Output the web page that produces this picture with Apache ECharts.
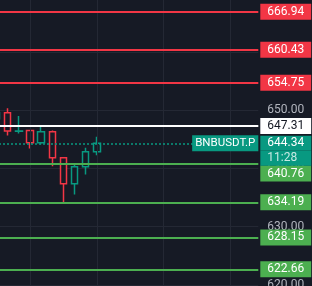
<!DOCTYPE html>
<html><head><meta charset="utf-8">
<script src="https://cdn.jsdelivr.net/npm/echarts@6/dist/echarts.min.js"></script>
<style>
html,body{margin:0;padding:0;background:#161a25;overflow:hidden;width:312px;height:286px}
#c{position:absolute;left:-9px;top:-6px;width:321px;height:349px}
</style>
</head><body><div id="c"></div>
<script>
const categories = ['09:00','09:15','09:30','09:45','10:00','10:15','10:30','10:45','11:00','11:15','11:30','11:45',
  '12:00','12:15','12:30','12:45','13:00','13:15','13:30','13:45','14:00','14:15','14:30','14:45'];
// [open, close, low, high]
const candles = [
  [648.57, 649.60, 648.20, 650.00],
  [649.60, 646.43, 645.69, 650.34],
  [646.40, 646.45, 646.03, 649.02],
  [646.55, 644.43, 643.45, 646.55],
  [644.43, 646.33, 644.14, 647.41],
  [646.33, 641.84, 640.40, 646.55],
  [641.84, 637.36, 634.19, 641.84],
  [637.36, 640.29, 635.52, 640.86],
  [640.29, 642.88, 638.97, 643.57],
  [642.88, 644.34, 642.29, 645.47]
];
const resistanceLevels = [666.94, 660.43, 654.75];
const keyLevel = 647.31;
const lastPrice = 644.34;
const countdown = '11:28';
const symbolName = 'BNBUSDT.P';
const supportLevels = [640.76, 634.19, 628.15, 622.66];
const yTickLabels = [620, 630, 640, 650, 660];
const gridColumns = ['09:45','11:15','12:45','14:15'];

const RED = '#f23645', GREEN = '#4caf50', TEAL = '#089981', BG = '#161a25', GRIDC = '#242834';
const FONT = 'Roboto';

const candleData = categories.map((c, i) => candles[i] ? candles[i] : '-');

function priceLabel(bg, fg) {
  return { show: true, position: 'end', distance: 2, backgroundColor: bg, color: fg,
    fontFamily: FONT, fontSize: 12, lineHeight: 12, padding: [2, 7, 2, 7],
    formatter: p => Number(p.value).toFixed(2) };
}

const levelLines = [];
resistanceLevels.forEach(v => levelLines.push({ yAxis: v, lineStyle: { color: RED, width: 2, type: 'solid' }, label: priceLabel(RED, '#ffffff') }));
levelLines.push({ yAxis: keyLevel, lineStyle: { color: '#ffffff', width: 2, type: 'solid' }, label: priceLabel('#ffffff', '#131722') });
supportLevels.forEach((v, i) => {
  if (i === 0) {
    levelLines.push({ yAxis: v, lineStyle: { color: GREEN, width: 2, type: 'solid' }, label: {
      show: true, position: 'end', distance: 2, fontFamily: FONT,
      formatter: p => '{s| }\n{v|' + Number(p.value).toFixed(2) + '}',
      rich: { s: { height: 19, lineHeight: 19, fontSize: 1 },
        v: { backgroundColor: GREEN, color: '#fff', fontFamily: FONT, fontSize: 12, lineHeight: 12, padding: [2, 7, 2, 7] } }
    } });
  } else {
    levelLines.push({ yAxis: v, lineStyle: { color: GREEN, width: 2, type: 'solid' }, label: priceLabel(GREEN, '#ffffff') });
  }
});
levelLines.push({ yAxis: lastPrice, lineStyle: { color: TEAL, width: 1.5, type: [2, 2] }, label: {
  show: true, position: 'end', distance: 2, fontFamily: FONT,
  formatter: p => '{s| }\n{a|' + Number(p.value).toFixed(2) + '}\n{b|' + countdown + '}',
  rich: { s: { height: 15, lineHeight: 15, fontSize: 1 },
    a: { backgroundColor: TEAL, color: '#fff', fontFamily: FONT, fontSize: 12, lineHeight: 15, height: 15, width: 37, padding: [0, 7, 0, 7] },
    b: { backgroundColor: TEAL, color: 'rgba(255,255,255,0.78)', fontFamily: FONT, fontSize: 12, lineHeight: 15, height: 15, width: 37, padding: [0, 7, 0, 7] } }
} });
levelLines.push({ yAxis: lastPrice, lineStyle: { color: 'rgba(0,0,0,0)', width: 0 }, label: {
  show: true, position: 'insideEnd', distance: 0, backgroundColor: TEAL, color: '#fff',
  fontFamily: FONT, fontSize: 11.5, lineHeight: 12, padding: [2, 3, 2, 3], formatter: () => symbolName } });

const chart = echarts.init(document.getElementById('c'), null, { renderer: 'canvas' });
chart.setOption({
  backgroundColor: BG,
  animation: false,
  grid: { left: 0, right: 53.7, top: 0, bottom: 0 },
  xAxis: { type: 'category', data: categories, boundaryGap: true, show: false },
  yAxis: {
    type: 'value', position: 'right', min: 610, max: 670, interval: 10,
    axisLine: { show: false }, axisTick: { show: false },
    splitLine: { lineStyle: { color: GRIDC, width: 1 } },
    axisLabel: { margin: 9, color: '#b2b5be', fontFamily: FONT, fontSize: 12,
      formatter: v => yTickLabels.includes(v) ? v.toFixed(2) : '' }
  },
  series: [
    { type: 'line', z: 1, data: categories.map(() => '-'), silent: true, showSymbol: false,
      markLine: { silent: true, symbol: 'none', animation: false, label: { show: false },
        lineStyle: { color: GRIDC, width: 1, type: 'solid' },
        data: gridColumns.map(c => ({ xAxis: c })) } },
    { type: 'candlestick', z: 2, data: candleData, barWidth: 7,
      itemStyle: { color: BG, color0: BG, borderColor: TEAL, borderColor0: RED, borderWidth: 1.5 } },
    { type: 'line', z: 3, data: categories.map(() => '-'), silent: true, showSymbol: false,
      markLine: { silent: true, symbol: 'none', animation: false, data: levelLines } }
  ]
});
</script></body></html>
